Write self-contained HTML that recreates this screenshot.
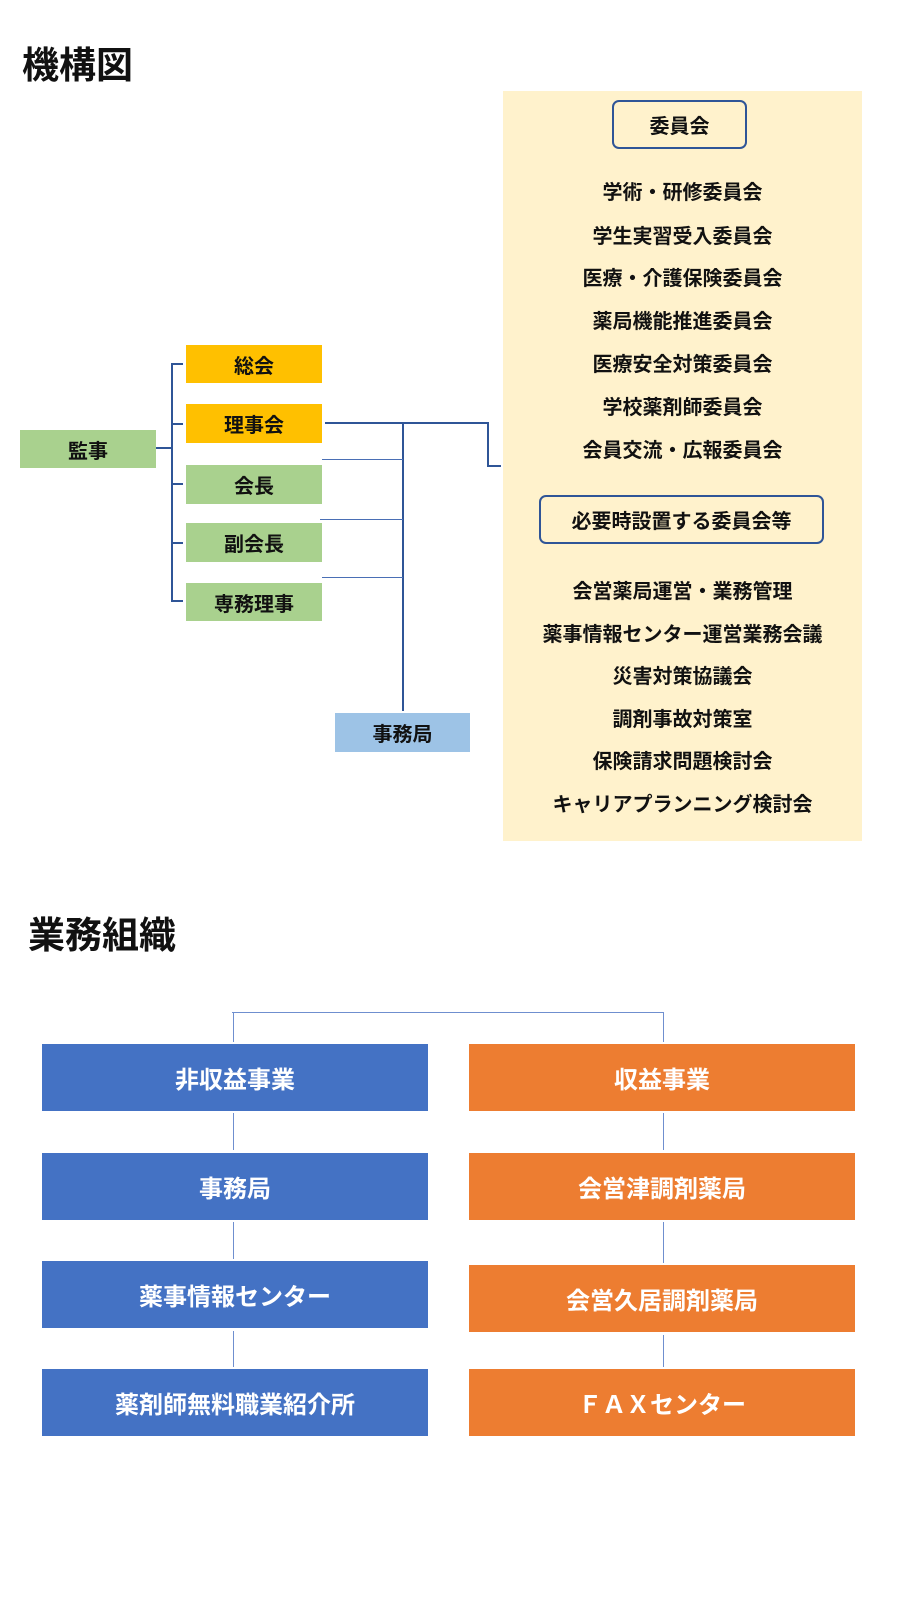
<!DOCTYPE html>
<html><head><meta charset="utf-8"><style>
body{margin:0;width:897px;height:1600px;background:#fff;position:relative;overflow:hidden;font-family:"Liberation Sans","Noto Sans CJK JP",sans-serif;font-weight:bold}
.a{position:absolute}
.b{position:absolute;display:flex;align-items:center;justify-content:center;font-size:20px;color:#111}
.t{position:absolute;left:503px;width:359px;text-align:center;font-size:20px;color:#111;line-height:24px}
.l{position:absolute;background:#2f5597}
.w{position:absolute;display:flex;align-items:center;justify-content:center;font-size:24px;color:#fff;width:386px;height:67px}
.c{position:absolute;background:#6f8fcf;width:1px}
</style></head><body>
<div class="a" style="left:22px;top:35px;font-size:37px;color:#111">機構図</div>
<div class="a" style="left:503px;top:91px;width:359px;height:750px;background:#fff2cc"></div>
<div class="b" style="left:612px;top:100px;width:131px;height:45px;border:2px solid #2f5597;border-radius:7px">委員会</div>
<div class="t" style="top:181px">学術・研修委員会</div>
<div class="t" style="top:225px">学生実習受入委員会</div>
<div class="t" style="top:267px">医療・介護保険委員会</div>
<div class="t" style="top:310px">薬局機能推進委員会</div>
<div class="t" style="top:353px">医療安全対策委員会</div>
<div class="t" style="top:396px">学校薬剤師委員会</div>
<div class="t" style="top:439px">会員交流・広報委員会</div>
<div class="b" style="left:539px;top:495px;width:281px;height:45px;border:2px solid #2f5597;border-radius:7px">必要時設置する委員会等</div>
<div class="t" style="top:580px">会営薬局運営・業務管理</div>
<div class="t" style="top:623px">薬事情報センター運営業務会議</div>
<div class="t" style="top:665px">災害対策協議会</div>
<div class="t" style="top:708px">調剤事故対策室</div>
<div class="t" style="top:750px">保険請求問題検討会</div>
<div class="t" style="top:793px">キャリアプランニング検討会</div>

<div class="b" style="left:20px;top:430px;width:136px;height:38px;background:#a9d18e">監事</div>
<div class="b" style="left:186px;top:345px;width:136px;height:38px;background:#ffc000">総会</div>
<div class="b" style="left:186px;top:404px;width:136px;height:39px;background:#ffc000">理事会</div>
<div class="b" style="left:186px;top:465px;width:136px;height:39px;background:#a9d18e">会長</div>
<div class="b" style="left:186px;top:523px;width:136px;height:39px;background:#a9d18e">副会長</div>
<div class="b" style="left:186px;top:583px;width:136px;height:38px;background:#a9d18e">専務理事</div>
<div class="b" style="left:335px;top:713px;width:135px;height:39px;background:#9dc3e6">事務局</div>

<div class="l" style="left:156px;top:447px;width:16px;height:2px"></div>
<div class="l" style="left:171px;top:363px;width:2px;height:239px"></div>
<div class="l" style="left:171px;top:363px;width:12px;height:2px"></div>
<div class="l" style="left:171px;top:423px;width:12px;height:2px"></div>
<div class="l" style="left:171px;top:483px;width:12px;height:2px"></div>
<div class="l" style="left:171px;top:542px;width:12px;height:2px"></div>
<div class="l" style="left:171px;top:600px;width:12px;height:2px"></div>
<div class="l" style="left:325px;top:422px;width:164px;height:2px"></div>
<div class="l" style="left:487px;top:422px;width:2px;height:45px"></div>
<div class="l" style="left:487px;top:465px;width:14px;height:2px"></div>
<div class="l" style="left:402px;top:422px;width:2px;height:289px"></div>
<div class="l" style="left:322px;top:459px;width:81px;height:1px;background:#4a6fb5"></div>
<div class="l" style="left:320px;top:519px;width:83px;height:1px;background:#4a6fb5"></div>
<div class="l" style="left:322px;top:577px;width:81px;height:1px;background:#4a6fb5"></div>

<div class="a" style="left:28px;top:905px;font-size:37px;color:#111">業務組織</div>
<div class="a" style="left:232px;top:1012px;width:432px;height:1px;background:#6f8fcf"></div>
<div class="c" style="left:233px;top:1013px;height:29px"></div>
<div class="c" style="left:663px;top:1013px;height:29px"></div>
<div class="c" style="left:233px;top:1113px;height:37px"></div>
<div class="c" style="left:233px;top:1222px;height:37px"></div>
<div class="c" style="left:233px;top:1331px;height:36px"></div>
<div class="c" style="left:663px;top:1113px;height:37px"></div>
<div class="c" style="left:663px;top:1222px;height:41px"></div>
<div class="c" style="left:663px;top:1335px;height:32px"></div>
<div class="w" style="left:42px;top:1044px;background:#4472c4">非収益事業</div>
<div class="w" style="left:42px;top:1153px;background:#4472c4">事務局</div>
<div class="w" style="left:42px;top:1261px;background:#4472c4">薬事情報センター</div>
<div class="w" style="left:42px;top:1369px;background:#4472c4">薬剤師無料職業紹介所</div>
<div class="w" style="left:469px;top:1044px;background:#ed7d31">収益事業</div>
<div class="w" style="left:469px;top:1153px;background:#ed7d31">会営津調剤薬局</div>
<div class="w" style="left:469px;top:1265px;background:#ed7d31">会営久居調剤薬局</div>
<div class="w" style="left:469px;top:1369px;background:#ed7d31">ＦＡＸセンター</div>
</body></html>
